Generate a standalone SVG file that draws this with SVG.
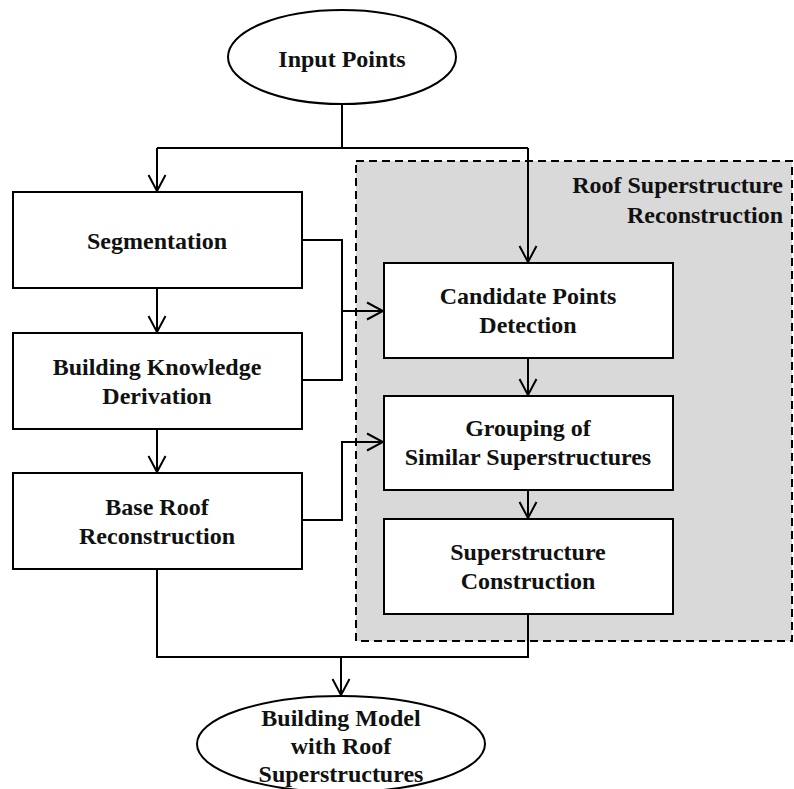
<svg xmlns="http://www.w3.org/2000/svg" width="794" height="789" viewBox="0 0 794 789">
  <defs>
    <style>
      .node { fill: #ffffff; stroke: #000000; stroke-width: 2; }
      .label { font-family: "Liberation Serif", "Times New Roman", serif; font-weight: bold; font-size: 24px; fill: #111111; text-anchor: middle; }
      .wire { fill: none; stroke: #000000; stroke-width: 2; }
      .group-box { fill: #d9d9d9; stroke: #000000; stroke-width: 2; stroke-dasharray: 8 5; }
    </style>
    <marker id="arrow" markerUnits="userSpaceOnUse" markerWidth="20" markerHeight="20" viewBox="-18 -10 20 20" refX="0" refY="0" orient="auto">
      <path d="M -16 -8.5 L 0 0 L -16 8.5" fill="none" stroke="#000000" stroke-width="2"/>
    </marker>
  </defs>

  <rect width="794" height="789" fill="#ffffff"/>

  <!-- dashed area for the roof superstructure stages -->
  <g id="roof-superstructure-group">
    <rect class="group-box" x="356" y="161" width="436" height="480"/>
    <text class="label" style="text-anchor:end" x="783" y="193">Roof Superstructure</text>
    <text class="label" style="text-anchor:end" x="783" y="223">Reconstruction</text>
  </g>

  <g id="connectors">
    <path class="wire" d="M 342 104 V 148"/>
    <path class="wire" d="M 157 148 H 528"/>
    <path class="wire" d="M 157 148 V 191" marker-end="url(#arrow)"/>
    <path class="wire" d="M 528 148 V 262" marker-end="url(#arrow)"/>
    <path class="wire" d="M 157 288 V 332" marker-end="url(#arrow)"/>
    <path class="wire" d="M 157 429 V 472" marker-end="url(#arrow)"/>
    <path class="wire" d="M 302 240 H 342 V 380 H 302"/>
    <path class="wire" d="M 342 311 H 383" marker-end="url(#arrow)"/>
    <path class="wire" d="M 302 520 H 342 V 442 H 383" marker-end="url(#arrow)"/>
    <path class="wire" d="M 528 358 V 395" marker-end="url(#arrow)"/>
    <path class="wire" d="M 528 490 V 518" marker-end="url(#arrow)"/>
    <path class="wire" d="M 528 614 V 657 H 157 V 569"/>
    <path class="wire" d="M 341 657 V 695" marker-end="url(#arrow)"/>
  </g>

  <g id="input-points">
    <ellipse class="node" cx="342" cy="57" rx="114" ry="47"/>
    <text class="label" x="342" y="67">Input Points</text>
  </g>

  <g id="segmentation">
    <rect class="node" x="13" y="192" width="289" height="96"/>
    <text class="label" x="157" y="249">Segmentation</text>
  </g>

  <g id="building-knowledge">
    <rect class="node" x="13" y="333" width="289" height="96"/>
    <text class="label" x="157" y="375">Building Knowledge</text>
    <text class="label" x="157" y="404">Derivation</text>
  </g>

  <g id="base-roof">
    <rect class="node" x="13" y="473" width="289" height="96"/>
    <text class="label" x="157" y="515">Base Roof</text>
    <text class="label" x="157" y="544">Reconstruction</text>
  </g>

  <g id="candidate-points">
    <rect class="node" x="384" y="263" width="289" height="95"/>
    <text class="label" x="528" y="304">Candidate Points</text>
    <text class="label" x="528" y="333">Detection</text>
  </g>

  <g id="grouping">
    <rect class="node" x="384" y="396" width="289" height="94"/>
    <text class="label" x="528" y="436">Grouping of</text>
    <text class="label" x="528" y="465">Similar Superstructures</text>
  </g>

  <g id="superstructure-construction">
    <rect class="node" x="384" y="519" width="289" height="95"/>
    <text class="label" x="528" y="560">Superstructure</text>
    <text class="label" x="528" y="589">Construction</text>
  </g>

  <g id="building-model">
    <ellipse class="node" cx="341" cy="744" rx="144" ry="48"/>
    <text class="label" x="341" y="726">Building Model</text>
    <text class="label" x="341" y="754">with Roof</text>
    <text class="label" x="341" y="782">Superstructures</text>
  </g>
</svg>
